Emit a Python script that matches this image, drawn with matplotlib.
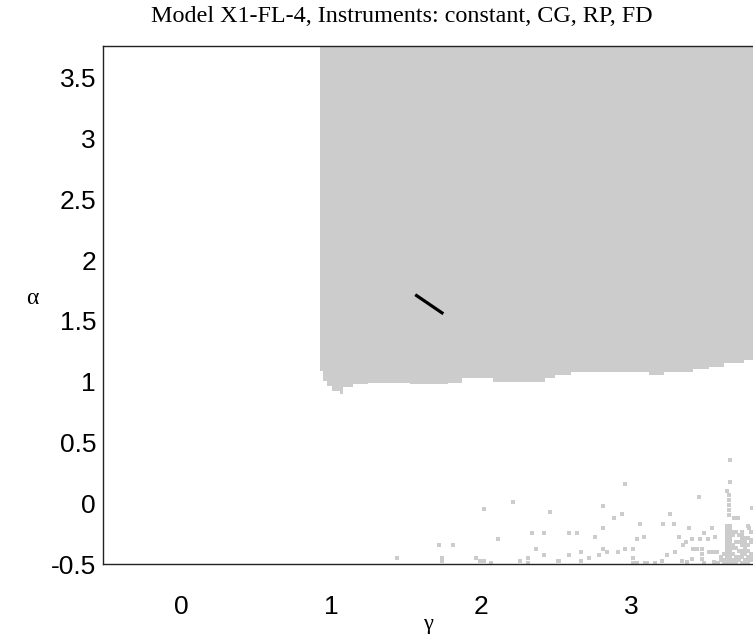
import matplotlib
matplotlib.use("Agg")
import matplotlib.pyplot as plt
import numpy as np

# Region boundary (step function): gamma edges and lower alpha bound of gray region
gamma_edges = [0.927, 0.947, 0.973, 1.007, 1.06, 1.08, 1.147, 1.247, 1.527, 1.78,
               1.873, 2.08, 2.427, 2.493, 2.6, 3.12, 3.22, 3.413, 3.52, 3.62, 3.747, 3.81]
alpha_lower = [1.087, 1.004, 0.963, 0.921, 0.897, 0.955, 0.979, 0.988, 0.979, 0.988,
               1.029, 0.996, 1.029, 1.054, 1.079, 1.054, 1.079, 1.103, 1.12, 1.153, 1.178]

# Black segment (estimate path)
line_gamma = [1.56, 1.747]
line_alpha = [1.715, 1.558]

# Scattered gray cells
dot_gamma = [
    1.44, 1.716, 1.738, 1.738, 1.81, 1.962, 1.993, 2.016, 2.064, 2.016, 2.211, 2.111,
    2.26, 2.313, 2.313, 2.338, 2.364, 2.416, 2.416, 2.46, 2.509,
    3.66, 3.66, 3.638, 3.653, 3.653, 3.653, 3.653, 3.653, 3.682, 3.711,
    2.96, 3.453, 2.809, 3.804, 2.887, 2.938, 3.26, 3.056, 3.209, 3.287, 3.382, 3.538,
    3.782, 2.587, 2.638, 2.809, 3.482, 2.76, 3.082, 3.038, 3.316, 3.404, 3.46, 3.511,
    3.56, 3.749, 3.804, 2.809, 2.838, 2.96, 3.009, 2.911, 2.664, 2.587, 2.782, 2.716,
    3.238, 3.289, 3.342, 3.364, 2.664, 3.009, 3.009, 3.204, 3.093, 3.16, 2.516, 3.338,
    3.409, 3.438, 3.471, 3.471, 3.471, 3.482, 3.516, 3.542, 3.571, 3.404, 3.549, 3.371,
    3.038, 3.104, 3.156,
    3.64, 3.66, 3.78,
    3.66, 3.64,
    3.64, 3.66, 3.68, 3.70, 3.74, 3.80,
    3.64, 3.66, 3.68, 3.72, 3.74,
    3.64, 3.66, 3.74, 3.76, 3.78,
    3.64, 3.66, 3.70, 3.72, 3.74, 3.76, 3.80,
    3.64, 3.66, 3.68, 3.74, 3.76, 3.78,
    3.64, 3.66, 3.68, 3.70, 3.76,
    3.64, 3.66, 3.72, 3.74, 3.76, 3.78,
    3.62, 3.64, 3.66, 3.68, 3.74, 3.76, 3.80,
    3.60, 3.64, 3.66, 3.70, 3.72, 3.74, 3.78, 3.80,
    3.60, 3.62, 3.64, 3.66, 3.68, 3.70, 3.72, 3.76, 3.78, 3.80,
    3.58, 3.62, 3.64, 3.66, 3.68, 3.70, 3.74, 3.76, 3.78,
]
dot_alpha = [
    -0.45, -0.345, -0.45, -0.478, -0.345, -0.45, -0.478, -0.478, -0.49, -0.048, 0.007, -0.296,
    -0.478, -0.45, -0.49, -0.249, -0.378, -0.249, -0.423, -0.076, -0.478,
    0.357, 0.178, 0.101, 0.068, 0.026, -0.015, -0.056, -0.098, -0.12, -0.12,
    0.156, 0.054, -0.02, -0.043, -0.12, -0.092, -0.092, -0.169, -0.169, -0.169, -0.208, -0.202,
    -0.202, -0.244, -0.244, -0.202, -0.244, -0.277, -0.277, -0.296, -0.277, -0.296, -0.296, -0.296,
    -0.277, -0.318, -0.304, -0.373, -0.401, -0.373, -0.373, -0.401, -0.401, -0.423, -0.423, -0.45,
    -0.423, -0.401, -0.346, -0.318, -0.478, -0.45, -0.49, -0.478, -0.49, -0.49, -0.478, -0.478,
    -0.373, -0.373, -0.373, -0.415, -0.456, -0.49, -0.401, -0.401, -0.401, -0.456, -0.483, -0.483,
    -0.49, -0.49, -0.49,
    -0.19, -0.19, -0.19,
    -0.215, -0.215,
    -0.24, -0.24, -0.24, -0.24, -0.24, -0.24,
    -0.265, -0.265, -0.265, -0.265, -0.265,
    -0.29, -0.29, -0.29, -0.29, -0.29,
    -0.315, -0.315, -0.315, -0.315, -0.315, -0.315, -0.315,
    -0.34, -0.34, -0.34, -0.34, -0.34, -0.34,
    -0.365, -0.365, -0.365, -0.365, -0.365,
    -0.39, -0.39, -0.39, -0.39, -0.39, -0.39,
    -0.415, -0.415, -0.415, -0.415, -0.415, -0.415, -0.415,
    -0.44, -0.44, -0.44, -0.44, -0.44, -0.44, -0.44, -0.44,
    -0.465, -0.465, -0.465, -0.465, -0.465, -0.465, -0.465, -0.465, -0.465, -0.465,
    -0.49, -0.49, -0.49, -0.49, -0.49, -0.49, -0.49, -0.49, -0.49,
]

x_ticks = [0, 1, 2, 3]
x_tick_labels = ["0", "1", "2", "3"]
y_ticks = [-0.5, 0, 0.5, 1, 1.5, 2, 2.5, 3, 3.5]
y_tick_labels = ["-0.5", "0", "0.5", "1", "1.5", "2", "2.5", "3", "3.5"]

XLIM = (-0.52, 3.81)
YLIM = (-0.5, 3.76)
GRAY = "#cccccc"

fig = plt.figure(figsize=(7.53, 6.39), dpi=100)
ax = fig.add_axes([103 / 753, 1 - 564 / 639, 1 - 103 / 753, (564 - 46) / 639])

# gray region
ge = np.array(gamma_edges)
al = np.array(alpha_lower + [alpha_lower[-1]])
ax.fill_between(ge, al, YLIM[1] + 1, step="post", color=GRAY, linewidth=0)

# scattered cells
ax.scatter(dot_gamma, dot_alpha, marker="s", s=6.5, color=GRAY, linewidths=0)

# black segment
ax.plot(line_gamma, line_alpha, color="black", linewidth=2.3, solid_capstyle="butt")

ax.set_xlim(*XLIM)
ax.set_ylim(*YLIM)
ax.set_xticks(x_ticks)
ax.set_xticklabels(x_tick_labels)
ax.set_yticks(y_ticks)
ax.set_yticklabels(y_tick_labels)
ax.tick_params(axis="both", length=0, labelsize=19)
ax.tick_params(axis="x", pad=22.5)
ax.tick_params(axis="y", pad=5)
for lab in ax.get_xticklabels() + ax.get_yticklabels():
    lab.set_family("Liberation Sans")
ax.spines["right"].set_visible(False)
for s in ("left", "top", "bottom"):
    ax.spines[s].set_linewidth(1.0)
    ax.spines[s].set_color("#222222")

fig.text(402 / 753, 1 - 16 / 639, "Model X1-FL-4, Instruments: constant, CG, RP, FD",
         family="Liberation Serif", fontsize=17.4, ha="center", va="center")
fig.text(32 / 753, 1 - 298 / 639, "α", family="Liberation Serif", fontsize=17,
         ha="center", va="center")
fig.text(428 / 753, 1 - 625 / 639, "γ", family="Liberation Serif", fontsize=16,
         ha="center", va="center")

fig.savefig("out.png", dpi=100)
